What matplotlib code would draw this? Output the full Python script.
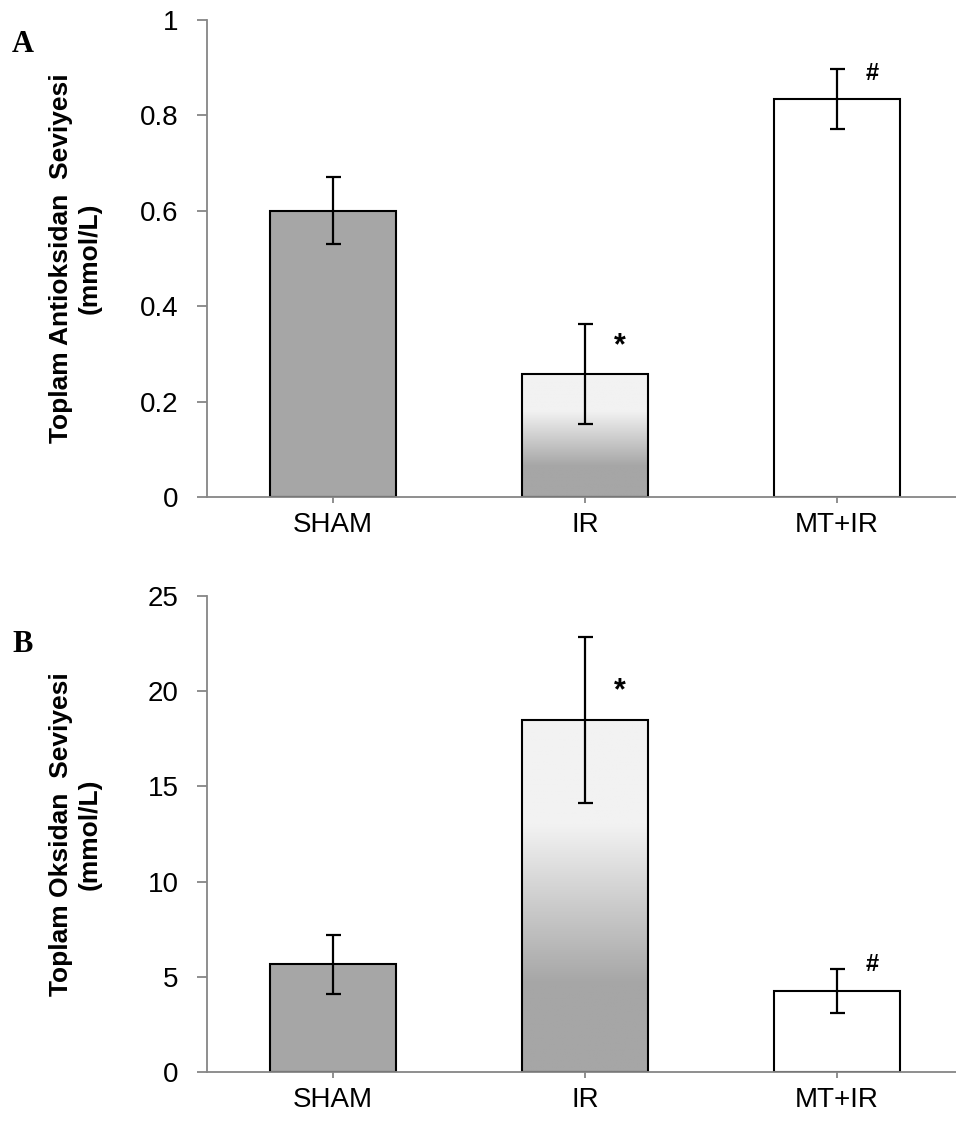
import numpy as np
import matplotlib
matplotlib.use('Agg')
import matplotlib.pyplot as plt
from matplotlib.colors import LinearSegmentedColormap
from matplotlib.ticker import FormatStrFormatter

plt.rcParams['font.family'] = ['Liberation Sans', 'DejaVu Sans']

groups = ['SHAM', 'IR', 'MT+IR']

# A: toplam antioksidan
tas_mean = [0.600, 0.257, 0.835]
tas_err = [0.070, 0.105, 0.063]
tas_sig = ['', '*', '#']
tas_sig_y = [0, 0.323, 0.888]

# B: toplam oksidan
tos_mean = [5.65, 18.5, 4.25]
tos_err = [1.55, 4.35, 1.15]
tos_sig = ['', '*', '#']
tos_sig_y = [0, 20.2, 5.62]

fills = ['#a6a6a6', 'grad', '#ffffff']

# Excel-like gradient: dark at bottom, light from ~70 % up
grad = LinearSegmentedColormap.from_list(
    'g', [(0, '#a6a6a6'), (0.25, '#a6a6a6'), (0.70, '#f2f2f2'), (1, '#f2f2f2')])

GRAY = '#868686'


def panel(ax, means, errs, sig, sig_y, ymax, ystep, ylabel, letter, ypos):
    x = np.arange(len(groups))
    w = 0.5
    for i in x:
        if fills[i] == 'grad':
            img = np.linspace(1, 0, 256).reshape(-1, 1)
            ax.imshow(img, cmap=grad, vmin=0, vmax=1, aspect='auto',
                      extent=(i - w / 2, i + w / 2, 0, means[i]), zorder=1)
            fc = 'none'
        else:
            fc = fills[i]
        ax.bar(i, means[i], width=w, color=fc, edgecolor='black',
               linewidth=1.5, zorder=2)
    ax.errorbar(x, means, yerr=errs, fmt='none', ecolor='black',
                elinewidth=1.6, capsize=5.4, capthick=1.6, zorder=3)
    for i, s in enumerate(sig):
        if s == '*':
            ax.text(i + 0.14, sig_y[i], s, ha='center', va='center_baseline',
                    fontsize=22, fontweight='bold', zorder=4,
                    transform=ax.transData)
        elif s:
            ax.text(i + 0.14, sig_y[i], s, ha='center', va='center',
                    fontsize=17, fontweight='bold', zorder=4)

    ax.set_xlim(-0.5, 2.5)
    ax.set_ylim(0, ymax)
    ax.set_yticks(np.arange(0, ymax + ystep / 2, ystep))
    ax.yaxis.set_major_formatter(FormatStrFormatter('%g'))
    ax.set_xticks(x)
    ax.set_xticklabels(groups)

    for s in ['top', 'right']:
        ax.spines[s].set_visible(False)
    for s in ['left', 'bottom']:
        ax.spines[s].set_color(GRAY)
        ax.spines[s].set_linewidth(1.3)
    ax.tick_params(axis='y', length=7.5, width=1.3, color=GRAY,
                   labelsize=20, pad=13)
    ax.tick_params(axis='x', length=4.5, width=1.3, color=GRAY,
                   labelsize=20, pad=6)

    bb = ax.get_position()
    fig.text(75 / 956, (bb.y0 + bb.y1) / 2, ylabel, rotation=90,
             ha='center', va='center', ma='center', fontsize=19,
             fontweight='bold', linespacing=1.25)
    fig.text(12 / 956, ypos, letter, ha='left', va='center', fontsize=22,
             fontweight='bold', family='Liberation Serif')


fig = plt.figure(figsize=(9.56, 11.27), dpi=100)
axw = 756 / 956
ax1 = fig.add_axes([207 / 956, 1 - 497 / 1127, axw, 477 / 1127])
ax2 = fig.add_axes([207 / 956, 1 - 1072 / 1127, axw, 476 / 1127])

panel(ax1, tas_mean, tas_err, tas_sig, tas_sig_y, 1.0, 0.2,
      'Toplam Antioksidan  Seviyesi\n(mmol/L)', 'A', 1 - 44 / 1127)
panel(ax2, tos_mean, tos_err, tos_sig, tos_sig_y, 25, 5,
      'Toplam Oksidan  Seviyesi\n(mmol/L)', 'B', 1 - 644 / 1127)

fig.savefig('out.png', dpi=100)
